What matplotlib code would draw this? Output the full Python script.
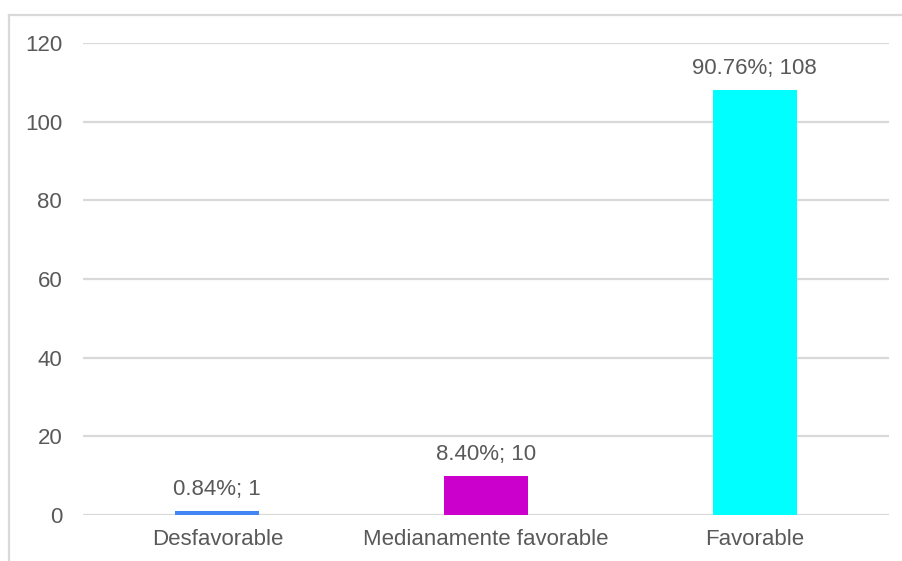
import matplotlib.pyplot as plt
from matplotlib.lines import Line2D

CATEGORIES = ["Desfavorable", "Medianamente favorable", "Favorable"]
COUNTS = [1, 10, 108]
PERCENTS = ["0.84%", "8.40%", "90.76%"]
COLORS = ["#4285F4", "#CC00CC", "#00FFFF"]

INK = "#595959"
GRID = "#D9D9D9"

plt.rcParams["font.family"] = ["Liberation Sans", "DejaVu Sans"]


def main():
    fig = plt.figure(figsize=(9.03, 5.61), dpi=100)
    W, H = 903, 561
    ax = fig.add_axes([83 / W, 1 - 515 / H, (889 - 83) / W, (515 - 43) / H])

    xs = list(range(len(CATEGORIES)))
    ax.bar(xs, COUNTS, width=0.313, color=COLORS, zorder=3)
    for x, n, p in zip(xs, COUNTS, PERCENTS):
        ax.annotate(f"{p}; {n}", (x, n), xytext=(0, 8), textcoords="offset points",
                    ha="center", va="bottom", fontsize=16, color=INK)

    ax.set_xlim(-0.5, 2.5)
    ax.set_ylim(0, 120)
    ax.set_yticks(range(0, 121, 20))
    ax.set_xticks(xs, CATEGORIES)
    ax.grid(True, axis="y", color=GRID, lw=1.6, zorder=0)
    for s in ax.spines.values():
        s.set_visible(False)
    ax.tick_params(length=0, labelsize=16, colors=INK)
    ax.tick_params(axis="y", pad=15)
    ax.tick_params(axis="x", pad=10)

    # outer chart border (only left and top visible in the crop)
    fig.add_artist(Line2D([9 / W, 9 / W], [0, 1 - 15 / H], color=GRID, lw=1.6))
    fig.add_artist(Line2D([9 / W, 1], [1 - 15 / H, 1 - 15 / H], color=GRID, lw=1.6))

    fig.savefig("out.png", dpi=100)


if __name__ == "__main__":
    main()
